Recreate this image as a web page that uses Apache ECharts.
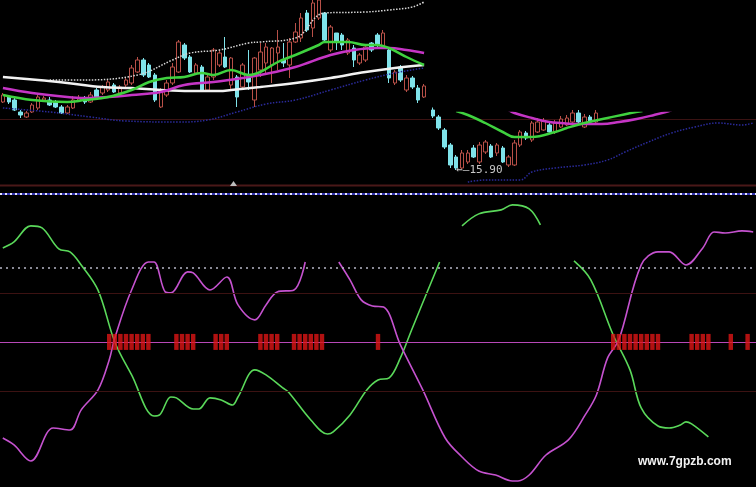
<!DOCTYPE html>
<html><head><meta charset="utf-8">
<script src="https://cdn.jsdelivr.net/npm/echarts@6/dist/echarts.min.js"></script>
<style>html,body{margin:0;padding:0;background:#000;}#c{width:756px;height:487px;}</style>
</head><body><div id="c"></div>
<script>
// ---------- DATA ----------
// upper-left price panel: [open, close, low, high]
const leftCandles = [
[19.92,20.20,19.88,20.28],[20.12,19.92,19.84,20.20],[20.00,19.60,19.56,20.08],[19.52,19.40,19.28,19.60],
[19.32,19.48,19.28,19.56],[19.52,19.80,19.48,19.88],[19.68,20.12,19.60,20.20],[20.00,20.08,19.92,20.16],
[20.00,19.80,19.76,20.12],[19.92,19.72,19.68,20.00],[19.72,19.48,19.44,19.80],[19.48,19.72,19.44,19.80],
[19.68,20.00,19.64,20.16],[20.00,20.08,19.92,20.20],[20.08,19.92,19.84,20.16],[19.92,20.20,19.88,20.32],
[20.40,20.12,20.04,20.48],[20.28,20.52,20.20,20.60],[20.40,20.72,20.32,20.80],[20.60,20.32,20.28,20.68],
[20.28,20.52,20.20,20.60],[20.60,20.80,20.52,20.88],[20.68,21.28,20.60,21.40],[21.12,21.60,21.08,21.72],
[21.60,21.00,20.92,21.68],[21.40,20.92,20.88,21.48],[21.00,20.00,19.92,21.08],[19.72,20.40,19.68,20.48],
[20.20,20.68,20.12,20.80],[20.68,21.32,20.60,21.48],[21.12,22.32,21.08,22.40],[22.20,21.68,21.60,22.28],
[21.72,21.12,21.08,21.80],[21.08,21.40,21.00,21.48],[21.32,20.40,20.32,21.40],[20.40,20.92,20.32,21.00],
[20.92,22.00,20.80,22.08],[21.40,21.88,21.32,22.00],[21.72,21.32,21.28,22.52],[20.60,21.68,20.40,21.72],
[20.92,20.12,19.72,21.00],[20.52,21.40,20.48,21.48],[20.88,20.72,20.40,22.00],[20.00,21.68,19.72,21.72],
[21.20,21.92,20.92,22.28],[21.48,22.12,21.08,22.28],[21.40,22.08,20.68,22.12],[21.88,22.12,21.20,22.80],
[21.60,21.48,21.32,22.28],[21.40,22.32,20.88,22.48],[22.32,22.72,22.28,23.08],[22.48,23.28,22.32,23.48],
[23.48,22.80,22.72,23.60],[22.88,23.88,22.52,24.00],[23.28,24.00,23.20,24.20],[23.48,22.40,22.28,23.52],
[22.00,22.92,21.92,23.00],[22.68,22.32,22.00,22.68],[22.60,22.20,22.00,22.68],[21.88,22.40,21.80,22.48],
[22.08,21.60,21.32,22.20],[21.48,21.80,21.40,21.88],[21.60,22.12,21.52,22.20],[22.28,22.00,21.92,22.32],
[22.60,22.20,22.12,22.68],[22.12,22.68,22.08,22.80],[22.00,20.88,20.68,22.08],[20.68,21.12,20.60,21.20],
[21.32,20.80,20.72,21.40],[20.40,20.88,20.32,21.00],[20.88,20.52,20.44,20.96],[20.48,20.00,19.88,20.60],
[20.12,20.56,20.08,20.64]
];
const leftGreenMA   = [[0,20.20],[5,20.00],[11,19.92],[14,20.00],[18,20.12],[22,20.40],[25,20.72],[28,20.88],[31,20.92],[34,21.08],[36,21.00],[39,21.20],[42,21.00],[44,21.12],[47,21.52],[50,21.80],[54,22.20],[55,22.32],[59,22.32],[62,22.20],[64,22.20],[66,22.08],[69,21.72],[72,21.40]];
const leftMagentaMA = [[0,20.48],[5,20.28],[11,20.12],[14,20.08],[18,20.12],[22,20.20],[27,20.32],[31,20.60],[36,20.72],[41,20.88],[44,21.00],[50,21.32],[56,21.80],[60,22.00],[64,22.08],[66,22.08],[69,22.00],[72,21.88]];
const leftWhiteMA   = [[0,20.92],[6,20.80],[11,20.68],[17,20.52],[22,20.48],[27,20.40],[32,20.36],[37,20.36],[39,20.40],[44,20.52],[50,20.68],[56,20.88],[62,21.12],[67,21.28],[72,21.40]];
const leftUpperBand = [[8,20.80],[13,20.80],[23,21.00],[29,21.60],[32,21.88],[37,22.00],[42,22.28],[44,22.32],[50,22.48],[55,23.48],[62,23.52],[66,23.60],[70,23.72],[72,23.92]];
const leftLowerBand = [[0,19.68],[8,19.52],[15,19.32],[21,19.16],[30,19.12],[35,19.20],[40,19.52],[45,19.84],[50,20.00],[56,20.40],[62,20.80],[67,21.08],[72,21.28]];

// upper-right price panel
const rightCandles = [
[18.30,18.06,17.98,18.40],[18.02,17.58,17.50,18.10],[17.50,16.82,16.74,17.58],[16.90,16.10,15.98,16.98],
[16.42,15.98,15.90,16.50],[15.98,16.58,15.94,16.70],[16.22,16.58,16.14,16.70],[16.78,16.42,16.38,16.90],
[16.22,16.90,16.14,17.02],[16.62,17.02,16.54,17.10],[16.86,16.42,16.38,16.94],[16.58,16.90,16.46,16.98],
[16.78,16.22,16.18,16.86],[16.10,16.42,16.02,16.50],[16.10,16.98,16.06,17.10],[16.90,17.42,16.82,17.50],
[17.38,17.18,17.10,17.46],[17.10,17.78,17.02,17.86],[17.42,17.82,17.38,17.98],[17.50,17.86,17.46,17.98],
[17.70,17.42,17.38,17.78],[17.42,17.78,17.34,17.90],[17.62,17.94,17.58,18.06],[17.70,17.98,17.66,18.10],
[17.82,18.18,17.74,18.30],[18.18,17.82,17.74,18.30],[17.62,18.02,17.58,18.14],[18.02,17.82,17.70,18.10],
[17.82,18.18,17.74,18.30]
];
const rightGreenMA   = [[4,18.26],[6,18.10],[9,17.78],[12,17.42],[14,17.22],[17,17.22],[21,17.42],[23,17.58],[26,17.78],[30,17.98],[34,18.18],[36,18.26]];
const rightMagentaMA = [[13,18.30],[14,18.18],[17,17.98],[20,17.82],[22,17.78],[25,17.74],[29,17.74],[32,17.82],[35,17.94],[38,18.10],[40,18.22],[41,18.30]];
const rightLowerBand = [[6,15.42],[9,15.50],[15,15.50],[17,15.82],[21,15.98],[26,16.10],[30,16.30],[33,16.62],[37,17.02],[41,17.38],[45,17.62],[49,17.78],[53,17.70],[55,17.78]];
const lowPrice = 15.90, lowDay = 4;

// lower oscillator panel: [day, value]
const oscGreen1 = [[0,63.5],[2,67.6],[5,78.4],[7,77],[10,62.8],[12,60.8],[14,52],[17,35],[20,0],[23,-22.3],[27,-50],[28,-49.3],[30,-37.2],[31,-37.8],[34,-45.3],[35,-45.3],[37,-37.8],[39,-39.2],[41,-42.6],[42,-37.2],[45,-18.9],[47,-22.3],[50,-31.1],[51,-33.8],[55,-52.7],[58,-62.2],[59,-60.8],[62,-49.3],[65,-32.4],[67,-25.7],[69,-24.3],[71,-10.8],[73,8.1],[78,54]];
const oscGreen2 = [[82,78.4],[85,86.5],[89,89.2],[91,92.6],[94,89.9],[96,79]];
const oscGreen3 = [[102,54.7],[105,41.9],[109,4.7],[112,-18.9],[114,-44.6],[117,-56.8],[119,-58.1],[121,-56.1],[122,-54],[123,-55.4],[126,-64.2]];
const oscMagenta1 = [[0,-64.9],[2,-69.6],[5,-80.4],[9,-58.1],[12,-59.5],[14,-45.9],[17,-32.4],[19,-12.2],[20,2.7],[23,35.1],[26,54],[27,54],[29,33.8],[30,33.1],[33,47.3],[34,46.6],[37,35.1],[40,43.9],[42,25],[45,14.9],[47,25],[49,33.8],[52,35.1],[54,54]];
const oscMagenta2 = [[60,54],[62,41.9],[64,28.4],[66,24.3],[68,23.6],[71,-2],[75,-32.4],[79,-64.9],[82,-77.7],[85,-87.2],[88,-89.9],[91,-93.9],[92,-93.9],[94,-89.9],[97,-76.4],[101,-66.2],[104,-49.3],[106,-35.8],[108,-10.8],[110,1.4],[114,52],[117,60.8],[119,60.8],[122,52],[125,63.5],[127,74.3],[129,73.6],[132,75],[134,74.3]];
const signalDays = [19,20,21,22,23,24,25,26,31,32,33,34,38,39,40,46,47,48,49,52,53,54,55,56,57,67,109,110,111,112,113,114,115,116,117,123,124,125,126,130,133];
const levelLines = [100, 50, 33, 0, -33];
const watermark = 'www.7gpzb.com';

// ---------- CHART ----------
const leftCats = leftCandles.map((_, i) => i);
const rightCats = Array.from({length: 56}, (_, i) => i);
const UP = '#b85048', DOWN = '#7fe3ea';
const candleStyle = {color: '#000', color0: DOWN, borderColor: UP, borderColor0: DOWN, borderWidth: 1};
function maLine(data, color, w, x, y, type) {
  return {type: 'line', data, xAxisIndex: x, yAxisIndex: y, smooth: 0.4, showSymbol: false, silent: true,
    lineStyle: {color, width: w, type: type || 'solid'}, clip: true, z: 3};
}
function oscLine(data, color) {
  return {type: 'line', data, xAxisIndex: 2, yAxisIndex: 2, smooth: 0.35, showSymbol: false, silent: true,
    lineStyle: {color, width: 1.6}, z: 4};
}
const hidden = {show: false};
const chart = echarts.init(document.getElementById('c'), null, {renderer: 'canvas'});
chart.setOption({
  backgroundColor: '#000',
  animation: false,
  grid: [
    {left: 0, top: 0, width: 427, height: 125},
    {left: 430, top: 113, width: 326, height: 72},
    {left: 0, top: 185, width: 756, height: 302}
  ],
  xAxis: [
    {type: 'category', data: leftCats, gridIndex: 0, axisLine: hidden, axisTick: hidden, axisLabel: hidden, splitLine: hidden},
    {type: 'category', data: rightCats, gridIndex: 1, axisLine: hidden, axisTick: hidden, axisLabel: hidden, splitLine: hidden},
    {type: 'value', min: -0.5, max: 134.5, gridIndex: 2, axisLine: hidden, axisTick: hidden, axisLabel: hidden, splitLine: hidden}
  ],
  yAxis: [
    {type: 'value', min: 19.0, max: 24.0, gridIndex: 0, axisLine: hidden, axisTick: hidden, axisLabel: hidden, splitLine: hidden},
    {type: 'value', min: 15.30, max: 18.18, gridIndex: 1, axisLine: hidden, axisTick: hidden, axisLabel: hidden, splitLine: hidden},
    {type: 'value', min: -98, max: 106, gridIndex: 2, axisLine: hidden, axisTick: hidden, axisLabel: hidden, splitLine: hidden}
  ],
  series: [
    {type: 'candlestick', data: leftCandles, xAxisIndex: 0, yAxisIndex: 0, barWidth: 4, clip: true, itemStyle: candleStyle, silent: true},
    maLine(leftLowerBand, '#2a2a9a', 1.5, 0, 0, 'dotted'),
    maLine(leftUpperBand, '#d8d8d8', 1.5, 0, 0, 'dotted'),
    maLine(leftWhiteMA, '#f2f2f2', 2.5, 0, 0),
    maLine(leftMagentaMA, '#c535c5', 2.5, 0, 0),
    maLine(leftGreenMA, '#3fd23f', 2.5, 0, 0),
    {type: 'candlestick', data: rightCandles, xAxisIndex: 1, yAxisIndex: 1, barWidth: 4, clip: true, itemStyle: candleStyle, silent: true,
      markPoint: {symbol: 'circle', symbolSize: 0, silent: true,
        data: [{coord: [lowDay, lowPrice], value: lowPrice}],
        label: {show: true, position: 'right', distance: 0, offset: [0, 0], formatter: '\u2190\u2014' + lowPrice.toFixed(2),
          color: '#c8c8c8', fontSize: 11, fontFamily: 'DejaVu Sans Mono'}}},
    maLine(rightLowerBand, '#2a2a9a', 1.5, 1, 1, 'dotted'),
    maLine(rightMagentaMA, '#c535c5', 2.5, 1, 1),
    maLine(rightGreenMA, '#3fd23f', 2.5, 1, 1),
    Object.assign(oscLine(oscGreen1, '#5ad85a'), {
      markLine: {silent: true, symbol: 'none', label: hidden, animation: false,
        data: [
          {yAxis: levelLines[0], lineStyle: {color: '#3535b5', width: 2, type: 'solid'}},
          {yAxis: levelLines[0], lineStyle: {color: '#e6e6ff', width: 2, type: [2, 3]}},
          {yAxis: levelLines[1], lineStyle: {color: '#b8b8c8', width: 1.5, type: [2, 4]}},
          {yAxis: levelLines[2], lineStyle: {color: '#3c1212', width: 1, type: 'solid'}},
          {yAxis: levelLines[3], lineStyle: {color: '#b848b8', width: 1.2, type: 'solid'}},
          {yAxis: levelLines[4], lineStyle: {color: '#3c1212', width: 1, type: 'solid'}}
        ]}}),
    oscLine(oscGreen2, '#5ad85a'),
    oscLine(oscGreen3, '#5ad85a'),
    oscLine(oscMagenta1, '#c552cf'),
    oscLine(oscMagenta2, '#c552cf'),
    {type: 'scatter', data: signalDays.map(d => [d, 0]), xAxisIndex: 2, yAxisIndex: 2, symbol: 'rect', symbolSize: [4.4, 16],
      itemStyle: {color: '#dd1515'}, silent: true, z: 5}
  ],
  graphic: [
    {type: 'line', shape: {x1: 0, y1: 119.5, x2: 756, y2: 119.5}, style: {stroke: '#3a1212', lineWidth: 1}, z: 0},
    {type: 'line', shape: {x1: 0, y1: 185.5, x2: 756, y2: 185.5}, style: {stroke: '#4a1818', lineWidth: 2}, z: 0},
    {type: 'polygon', shape: {points: [[230, 186], [233.5, 181], [237, 186]]}, style: {fill: '#bdbdbd'}, z: 10},
    {type: 'text', left: 332, top: -8, style: {text: '24.28', fill: '#bdbdbd', font: '11px "DejaVu Sans Mono"'}, z: 10},
    {type: 'text', left: 638, top: 456, style: {text: watermark, fill: '#f2f2f2', font: 'bold 12px "Liberation Sans", Arial, sans-serif'}, z: 10}
  ]
});
</script></body></html>
